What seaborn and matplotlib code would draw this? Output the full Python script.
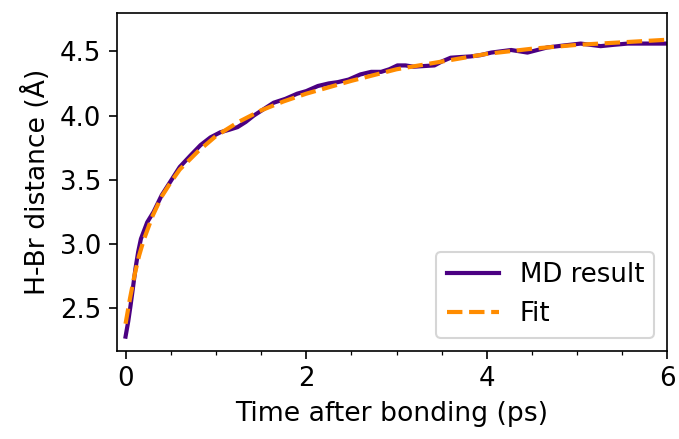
import numpy as np
import pandas as pd
import matplotlib
matplotlib.use('Agg')
import matplotlib.pyplot as plt
import seaborn as sns
from matplotlib.ticker import MultipleLocator

# MD trajectory values (time in ps, H-Br distance in Angstrom)
t_md = [0.0, 0.03, 0.055, 0.08, 0.11, 0.14, 0.17, 0.24, 0.31, 0.4, 0.5, 0.6, 0.72, 0.83,
        0.94, 1.05, 1.15, 1.24, 1.33, 1.42, 1.53, 1.64, 1.77, 1.9, 2.0, 2.13, 2.25, 2.35,
        2.47, 2.6, 2.72, 2.83, 2.92, 3.01, 3.1, 3.19, 3.3, 3.42, 3.5, 3.6, 3.7, 3.82, 3.93,
        4.05, 4.16, 4.27, 4.36, 4.45, 4.56, 4.67, 4.85, 5.04, 5.15, 5.26, 5.4, 5.56, 5.75,
        5.96, 6.0]
d_md = [2.28, 2.40, 2.52, 2.65, 2.81, 2.94, 3.04, 3.17, 3.25, 3.38, 3.49, 3.60, 3.69, 3.77,
        3.83, 3.87, 3.89, 3.91, 3.95, 4.00, 4.05, 4.10, 4.13, 4.17, 4.19, 4.23, 4.25, 4.26,
        4.28, 4.32, 4.34, 4.34, 4.36, 4.39, 4.39, 4.38, 4.385, 4.39, 4.42, 4.45, 4.455, 4.46,
        4.47, 4.49, 4.50, 4.51, 4.50, 4.49, 4.51, 4.53, 4.545, 4.56, 4.55, 4.54, 4.55, 4.56,
        4.56, 4.56, 4.56]

# fitted curve
t_fit = [0.0, 0.05, 0.1, 0.15, 0.2, 0.3, 0.4, 0.5, 0.6, 0.8, 1.0, 1.25, 1.5, 1.75, 2.0,
         2.5, 3.0, 3.5, 4.0, 4.5, 5.0, 5.5, 6.0]
d_fit = [2.38, 2.58, 2.76, 2.91, 3.03, 3.22, 3.37, 3.48, 3.58, 3.72, 3.84, 3.95, 4.04,
         4.11, 4.17, 4.27, 4.36, 4.42, 4.48, 4.52, 4.55, 4.57, 4.59]

md = pd.DataFrame({'t': t_md, 'd': d_md})
fit = pd.DataFrame({'t': t_fit, 'd': d_fit})

plt.rcParams['xtick.major.size'] = 4
plt.rcParams['ytick.major.size'] = 4

fig, ax = plt.subplots(figsize=(679 / 150, 439 / 150), dpi=150)
fig.subplots_adjust(left=0.1716, right=0.983, top=0.971, bottom=0.201)

sns.lineplot(data=md, x='t', y='d', color='indigo', linewidth=2, label='MD result', ax=ax)
sns.lineplot(data=fit, x='t', y='d', color='darkorange', linestyle='--', linewidth=2,
             label='Fit', ax=ax)

ax.set_xlim(-0.1, 6)
ax.set_ylim(2.17, 4.8)
ax.set_yticks([2.5, 3.0, 3.5, 4.0, 4.5])
ax.set_xticks([0, 2, 4, 6])
ax.xaxis.set_minor_locator(MultipleLocator(0.5))
ax.tick_params(labelsize=12.5)
ax.set_xlabel('Time after bonding (ps)', fontsize=12.75)
ax.set_ylabel('H-Br distance (Å)', fontsize=12.75)
ax.legend(loc='lower right', fontsize=12.5)

fig.savefig('out.png', dpi=150)
